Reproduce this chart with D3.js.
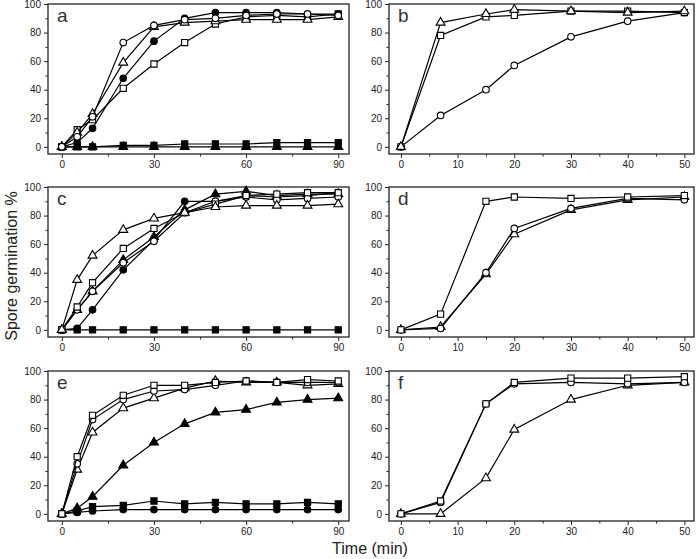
<!DOCTYPE html>
<html>
<head>
<meta charset="utf-8">
<script src="https://cdn.jsdelivr.net/npm/d3@7"></script>
<style>
  body { margin: 0; background: #fff; }
  svg { display: block; }
  .tick text { font-family: "Liberation Sans", Arial, sans-serif; font-size: 10px; fill: #222; }
</style>
</head>
<body>
<svg width="696" height="559"></svg>
<script>
// time points (min)
const timeLong = [0, 5, 10, 20, 30, 40, 50, 60, 70, 80, 90]
const timeShort = [0, 7, 15, 20, 30, 40, 50]

// panel a
const aOpenCircle   = [0, 7, 21, 73, 85, 89, 90, 92, 93, 93, 92]
const aFilledCircle = [0, 3, 13, 48, 74, 90, 94, 94, 94, 93, 93]
const aOpenTriangle = [0, 10, 23, 59, 84, 87, 88, 89, 89, 89, 91]
const aOpenSquare   = [0, 12, 19, 41, 58, 73, 86, 91, 92, 91, 93]
const aFilledSquare = [0, 0, 0, 1, 1, 2, 2, 2, 3, 3, 3]
const aFilledTriangle = [0, 0, 0, 0, 0, 0, 0, 0, 0, 0, 0]

// panel b
const bOpenTriangle = [0, 87, 93, 96, 95, 94, 95]
const bOpenSquare   = [0, 78, 91, 92, 95, 95, 94]
const bOpenCircle   = [0, 22, 40, 57, 77, 88, 94]

// panel c
const cOpenTriangle = [0, 35, 52, 70, 78, 82, 86, 87, 87, 87, 88]
const cOpenSquare   = [0, 16, 33, 57, 71, 82, 88, 94, 95, 96, 96]
const cOpenCircle   = [0, 14, 27, 47, 62, 82, 90, 93, 91, 92, 93]
const cFilledTriangle = [0, 14, 27, 49, 65, 84, 95, 97, 94, 95, 95]
const cFilledCircle = [0, 1, 14, 42, 63, 90, 90, 94, 93, 94, 96]
const cFilledSquare = [0, 0, 0, 0, 0, 0, 0, 0, 0, 0, 0]

// panel d
const dOpenSquare   = [0, 11, 90, 93, 92, 93, 94]
const dOpenCircle   = [0, 1, 40, 71, 85, 92, 91]
const dOpenTriangle = [0, 2, 39, 67, 84, 91, 93]

// panel e
const eOpenSquare   = [0, 40, 69, 83, 90, 90, 92, 93, 92, 94, 93]
const eOpenCircle   = [0, 35, 66, 80, 86, 87, 90, 93, 92, 92, 92]
const eOpenTriangle = [0, 31, 57, 74, 81, 88, 93, 92, 92, 90, 91]
const eFilledTriangle = [0, 4, 12, 34, 50, 63, 71, 73, 78, 80, 81]
const eFilledSquare = [0, 2, 5, 6, 9, 7, 8, 7, 7, 8, 7]
const eFilledCircle = [0, 1, 2, 3, 3, 3, 3, 3, 3, 3, 3]

// panel f
const fOpenSquare   = [0, 9, 77, 92, 95, 95, 96]
const fOpenCircle   = [0, 8, 77, 91, 92, 91, 92]
const fOpenTriangle = [0, 0, 25, 59, 80, 90, 92]

const panels = [
  { label: "a", col: 0, row: 0, time: timeLong, series: [
    ["square", true, aFilledSquare], ["triangle", true, aFilledTriangle],
    ["square", false, aOpenSquare], ["circle", true, aFilledCircle],
    ["triangle", false, aOpenTriangle], ["circle", false, aOpenCircle]] },
  { label: "b", col: 1, row: 0, time: timeShort, series: [
    ["circle", false, bOpenCircle], ["square", false, bOpenSquare],
    ["triangle", false, bOpenTriangle]] },
  { label: "c", col: 0, row: 1, time: timeLong, series: [
    ["square", true, cFilledSquare], ["circle", true, cFilledCircle],
    ["triangle", true, cFilledTriangle], ["circle", false, cOpenCircle],
    ["square", false, cOpenSquare], ["triangle", false, cOpenTriangle]] },
  { label: "d", col: 1, row: 1, time: timeShort, series: [
    ["triangle", false, dOpenTriangle], ["circle", false, dOpenCircle],
    ["square", false, dOpenSquare]] },
  { label: "e", col: 0, row: 2, time: timeLong, series: [
    ["circle", true, eFilledCircle], ["square", true, eFilledSquare],
    ["triangle", true, eFilledTriangle], ["triangle", false, eOpenTriangle],
    ["circle", false, eOpenCircle], ["square", false, eOpenSquare]] },
  { label: "f", col: 1, row: 2, time: timeShort, series: [
    ["triangle", false, fOpenTriangle], ["circle", false, fOpenCircle],
    ["square", false, fOpenSquare]] },
]

const cols = [
  { left: 48, right: 349, domain: [-4.5, 93.5], ticks: [0, 30, 60, 90], minor: [15, 45, 75] },
  { left: 389, right: 694, domain: [-2.1, 51.7], ticks: [0, 10, 20, 30, 40, 50], minor: [5, 15, 25, 35, 45] },
]
const rows = [4, 187, 371]
const panelHeight = 150

const shapes = { circle: d3.symbolCircle, square: d3.symbolSquare, triangle: d3.symbolTriangle }
const sizes = { circle: 34, square: 38, triangle: 34 }

const svg = d3.select("svg")

panels.forEach(p => {
  const c = cols[p.col]
  const top = rows[p.row]
  const bottom = top + panelHeight

  const x = d3.scaleLinear().domain(c.domain).range([c.left, c.right])
  const y = d3.scaleLinear().domain([-5, 100]).range([bottom, top])

  const g = svg.append("g")

  // minor ticks
  g.append("g")
    .attr("transform", `translate(0,${bottom})`)
    .call(d3.axisBottom(x).tickValues(c.minor).tickSize(2.5).tickFormat(""))
    .call(a => a.select(".domain").remove())
  g.append("g")
    .attr("transform", `translate(${c.left},0)`)
    .call(d3.axisLeft(y).tickValues([10, 30, 50, 70, 90]).tickSize(2.5).tickFormat(""))
    .call(a => a.select(".domain").remove())

  const xAxis = g.append("g")
    .attr("transform", `translate(0,${bottom})`)
    .call(d3.axisBottom(x).tickValues(c.ticks).tickSize(4).tickPadding(3))
  xAxis.select(".domain").remove()

  const yAxis = g.append("g")
    .attr("transform", `translate(${c.left},0)`)
    .call(d3.axisLeft(y).tickValues([0, 20, 40, 60, 80, 100]).tickSize(4).tickPadding(3))
  yAxis.select(".domain").remove()

  g.selectAll(".tick line").attr("stroke", "#222")

  g.append("rect")
    .attr("x", c.left)
    .attr("y", top)
    .attr("width", c.right - c.left)
    .attr("height", bottom - top)
    .attr("fill", "none")
    .attr("stroke", "#333")
    .attr("stroke-width", 1.4)

  g.append("text")
    .attr("x", c.left + 9)
    .attr("y", top + 18)
    .attr("font-family", "Liberation Sans, Arial, sans-serif")
    .attr("font-size", 19)
    .attr("fill", "#333")
    .text(p.label)

  const line = d3.line()
    .x((d, i) => x(p.time[i]))
    .y(d => y(d))

  p.series.forEach(([shape, filled, values]) => {
    g.append("path")
      .datum(values)
      .attr("d", line)
      .attr("fill", "none")
      .attr("stroke", "#000")
      .attr("stroke-width", 1.2)

    g.selectAll(null)
      .data(values)
      .enter()
      .append("path")
        .attr("transform", (d, i) => `translate(${x(p.time[i])},${y(d)})`)
        .attr("d", d3.symbol().type(shapes[shape]).size(sizes[shape]))
        .attr("fill", filled ? "#000" : "#fff")
        .attr("stroke", "#000")
        .attr("stroke-width", 1.1)
  })
})

svg.append("text")
  .attr("transform", "translate(17,266) rotate(-90)")
  .attr("text-anchor", "middle")
  .attr("font-family", "Liberation Sans, Arial, sans-serif")
  .attr("font-size", 16)
  .attr("fill", "#222")
  .text("Spore germination %")

svg.append("text")
  .attr("x", 370)
  .attr("y", 554)
  .attr("text-anchor", "middle")
  .attr("font-family", "Liberation Sans, Arial, sans-serif")
  .attr("font-size", 16)
  .attr("fill", "#222")
  .text("Time (min)")
</script>
</body>
</html>
